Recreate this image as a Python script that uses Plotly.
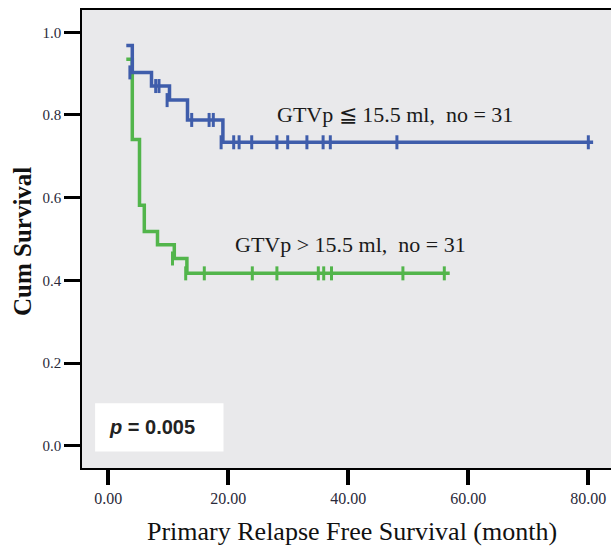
import plotly.graph_objects as go

# ---- data ----
blue_times = [3.0, 4.0, 7.2, 10.2, 13.2, 19.1, 80.8]
blue_surv = [0.968, 0.903, 0.870, 0.836, 0.788, 0.734, 0.734]
blue_cens_t = [3.6, 7.9, 8.45, 9.8, 13.9, 16.8, 17.5, 18.8, 20.9, 21.8, 23.9,
               28.1, 29.9, 33.1, 35.8, 37.0, 48.1, 80.0]
blue_cens_s = [0.903, 0.870, 0.870, 0.836, 0.788, 0.788, 0.788] + [0.734] * 11

green_times = [3.0, 4.0, 5.2, 6.0, 8.2, 11.0, 13.1, 56.9]
green_surv = [0.935, 0.741, 0.582, 0.518, 0.486, 0.453, 0.417, 0.417]
green_cens_t = [10.7, 12.9, 16.0, 24.0, 28.1, 35.0, 35.9, 37.2, 49.1, 56.0]
green_cens_s = [0.453] + [0.417] * 9

x_ticks = [0, 20, 40, 60, 80]
x_tick_labels = ["0.00", "20.00", "40.00", "60.00", "80.00"]
y_ticks = [0.0, 0.2, 0.4, 0.6, 0.8, 1.0]
y_tick_labels = ["0.0", "0.2", "0.4", "0.6", "0.8", "1.0"]

label_blue = "GTVp ≦ 15.5 ml,  no = 31"
label_green = "GTVp > 15.5 ml,  no = 31"
p_text = "<b><i>p</i> = 0.005</b>"

BLUE = "#3F5DAB"
GREEN = "#52B54B"
SERIF = "Liberation Serif, Times New Roman, serif"
TICKCOL = "#2a2a3a"

fig = go.Figure()

for times, surv, ct, cs, col in [
    (green_times, green_surv, green_cens_t, green_cens_s, GREEN),
    (blue_times, blue_surv, blue_cens_t, blue_cens_s, BLUE),
]:
    fig.add_trace(go.Scatter(x=times, y=surv, mode="lines",
                             line=dict(color=col, width=3.5, shape="hv"),
                             hoverinfo="skip", showlegend=False))
    fig.add_trace(go.Scatter(x=ct, y=cs, mode="markers",
                             marker=dict(symbol="line-ns", size=10,
                                         line=dict(color=col, width=3)),
                             hoverinfo="skip", showlegend=False))

# p-value box
fig.add_shape(type="rect", xref="x", yref="y", x0=-2.2, x1=19.2, y0=-0.014, y1=0.103,
              fillcolor="white", line=dict(width=0), layer="above")
fig.add_annotation(x=-0.3, y=0.045, xref="x", yref="y", text=p_text, showarrow=False,
                   xanchor="left", yanchor="middle",
                   font=dict(family="Liberation Sans, Arial, sans-serif", size=20, color="#222222"))

fig.add_annotation(x=27.8, y=0.80, xref="x", yref="y", text=label_blue, showarrow=False,
                   xanchor="left", yanchor="middle",
                   font=dict(family=SERIF, size=22, color="#1a1a1a"))
fig.add_annotation(x=20.8, y=0.486, xref="x", yref="y", text=label_green, showarrow=False,
                   xanchor="left", yanchor="middle",
                   font=dict(family=SERIF, size=22, color="#1a1a1a"))

# axis titles
fig.add_annotation(x=0.51, y=-0.1376, xref="paper", yref="paper",
                   text="Primary Relapse Free Survival (month)", showarrow=False,
                   xanchor="center", yanchor="middle",
                   font=dict(family=SERIF, size=26, color="#111111"))
fig.add_annotation(x=-0.1134, y=0.4934, xref="paper", yref="paper",
                   text="<b>Cum Survival</b>", showarrow=False, textangle=-90,
                   xanchor="center", yanchor="middle",
                   font=dict(family=SERIF, size=25, color="#111111"))

fig.update_layout(
    width=611, height=547,
    margin=dict(l=82, r=0, t=10, b=79),
    paper_bgcolor="white", plot_bgcolor="#E9E9EB",
    xaxis=dict(range=[-4.383, 83.78], tickvals=x_ticks, ticktext=x_tick_labels,
               ticks="outside", ticklen=15, tickwidth=3.5, tickcolor="black",
               showline=True, linecolor="black", linewidth=1.5, mirror=True,
               showgrid=False, zeroline=False,
               tickfont=dict(family=SERIF, size=16, color=TICKCOL)),
    yaxis=dict(range=[-0.0537, 1.0539], tickvals=y_ticks, ticktext=y_tick_labels,
               ticks="outside", ticklen=16, tickwidth=3, tickcolor="black",
               showline=True, linecolor="black", linewidth=1.5,
               showgrid=False, zeroline=False,
               tickfont=dict(family=SERIF, size=15, color=TICKCOL)),
)

fig.write_html("out.html")
